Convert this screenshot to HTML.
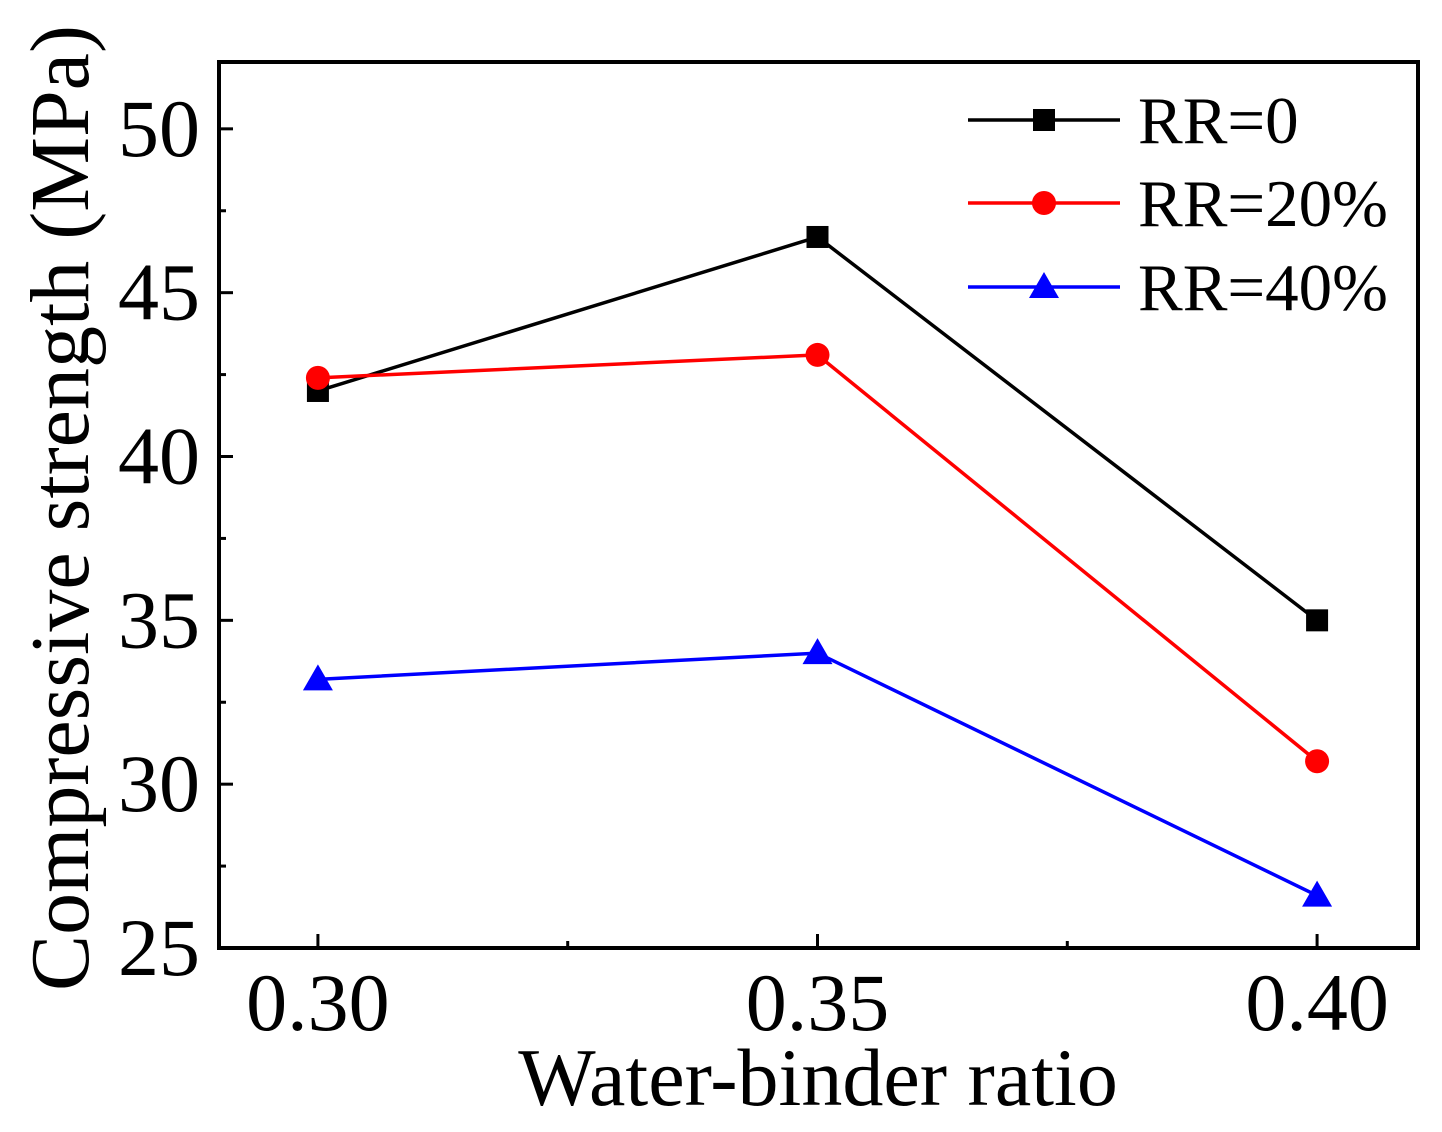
<!DOCTYPE html>
<html><head><meta charset="utf-8"><style>
html,body{margin:0;padding:0;background:#fff;}
svg{display:block;font-family:"Liberation Serif",serif;}
</style></head><body>
<svg id="chart" width="1442" height="1132" viewBox="0 0 1442 1132" xmlns="http://www.w3.org/2000/svg">
<g id="plot"></g>
</svg>
<script>
const categories=[0.30,0.35,0.40];
const xTickLabels=["0.30","0.35","0.40"];
const yTicks=[25,30,35,40,45,50];
const rr0=[42.0,46.7,35.0];
const rr20=[42.4,43.1,30.7];
const rr40=[33.2,34.0,26.6];
const seriesNames=["RR=0","RR=20%","RR=40%"];

const L=219,R=1418,T=62,B=948;
const xMin=0.2901,xMax=0.4101,yMin=25,yMax=52.04;
function xs(v){return L+(v-xMin)/(xMax-xMin)*(R-L);}
function ys(v){return B-(v-yMin)/(yMax-yMin)*(B-T);}
const NS="http://www.w3.org/2000/svg";
const g=document.getElementById('plot');
function mk(tag,attrs,parent){const e=document.createElementNS(NS,tag);for(const k in attrs)e.setAttribute(k,attrs[k]);(parent||g).appendChild(e);return e;}

const fr=mk('rect',{x:L,y:T,width:R-L,height:B-T,fill:'none',stroke:'#000','stroke-width':4});



categories.forEach((c,i)=>{
  const t=mk('line',{x1:xs(c),x2:xs(c),y1:B,y2:B-14,stroke:'#000','stroke-width':3});
  
  
  const tx=mk('text',{x:xs(c),y:1030,'font-size':82,'text-anchor':'middle'});
  tx.textContent=xTickLabels[i];
  
  
});
[0.325,0.375].forEach(c=>{
  const t=mk('line',{x1:xs(c),x2:xs(c),y1:B,y2:B-7,stroke:'#000','stroke-width':3});
  
  
});
yTicks.forEach(v=>{
  const t=mk('line',{x1:L,x2:L+14,y1:ys(v),y2:ys(v),stroke:'#000','stroke-width':3});
  
  
  const tx=mk('text',{x:200,y:ys(v)+27,'font-size':82,'text-anchor':'end'});
  tx.textContent=String(v);
  
  
});
for(let v=27.5;v<52;v+=5){
  const t=mk('line',{x1:L,x2:L+7,y1:ys(v),y2:ys(v),stroke:'#000','stroke-width':3});
  
  
}
const xt=mk('text',{x:818,y:1105,'font-size':82,'text-anchor':'middle'});
xt.textContent='Water-binder ratio';


const yt=mk('text',{x:0,y:0,'font-size':84,'text-anchor':'middle',transform:'translate(88,508) rotate(-90)'});
yt.textContent='Compressive strength (MPa)';



function marker(kind,x,y,color){
  let e;
  if(kind==='sq') e=mk('rect',{x:x-11,y:y-11,width:22,height:22,fill:color});
  else if(kind==='ci') e=mk('circle',{cx:x,cy:y,r:12,fill:color});
  else e=mk('polygon',{points:`${x},${y-15} ${x-15},${y+11} ${x+15},${y+11}`,fill:color});
  return e;
}
const series=[[rr0,'#000','sq'],[rr20,'#f00','ci'],[rr40,'#00f','tr']];
series.forEach(([vals,color,kind],si)=>{
  const pts=vals.map((v,i)=>xs(categories[i])+','+ys(v)).join(' ');
  const pl=mk('polyline',{points:pts,fill:'none',stroke:color,'stroke-width':3.5});
  
  
  vals.forEach((v,i)=>{
    const m=marker(kind,xs(categories[i]),ys(v),color);
    
    
  });
  const ly=[120,203,287][si];
  const ll=mk('line',{x1:968,x2:1120,y1:ly,y2:ly,stroke:color,'stroke-width':3.5});
  
  
  const lm=marker(kind,1044,ly,color);
  
  
  const lt=mk('text',{x:1138,y:ly+23,'font-size':67});
  lt.textContent=seriesNames[si];
  
  
});
</script>
</body></html>
